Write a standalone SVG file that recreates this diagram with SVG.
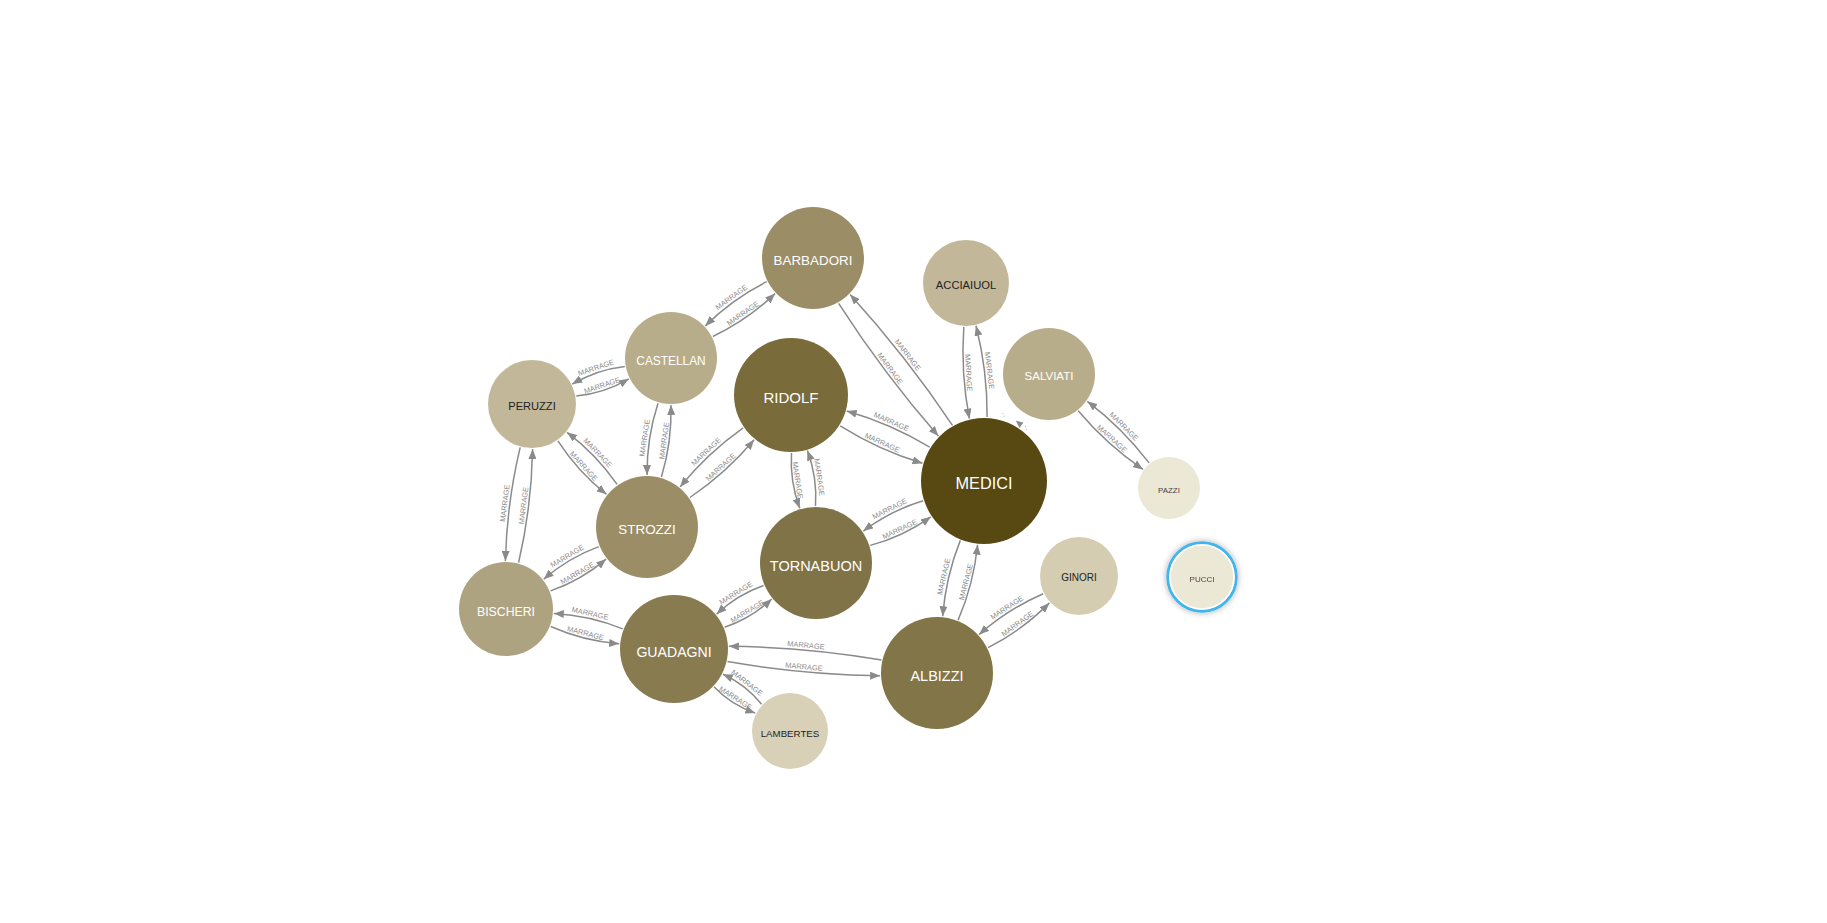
<svg xmlns="http://www.w3.org/2000/svg" width="1827" height="923" viewBox="0 0 1827 923">
<style>
.e{fill:none;stroke:#8a8a8a;stroke-width:1.5;marker-end:url(#arr)}
.l{font-family:"Liberation Sans",Arial,sans-serif;font-size:7.4px;fill:#8c8c8c;text-anchor:middle}
.t{font-family:"Liberation Sans",Arial,sans-serif;text-anchor:middle}
.w{fill:#ffffff}
.k{fill:#222222}
.g{fill:#444444}
</style>
<defs>
<marker id="arr" markerWidth="10" markerHeight="8" refX="10" refY="4" orient="auto" markerUnits="userSpaceOnUse"><path d="M0,0 L10,4 L0,8 z" fill="#8a8a8a"/></marker>
<filter id="sh" x="-50%" y="-50%" width="200%" height="200%"><feDropShadow dx="0" dy="0" stdDeviation="3" flood-color="#000" flood-opacity="0.35"/></filter>
</defs>
<rect width="1827" height="923" fill="#ffffff"/>
<g id="connectors">
<path class="e" d="M766.7,281.7 Q732.5,298.9 705.3,325.9"/>
<text class="l" transform="translate(734.3,301.3) rotate(-35.7)" y="-2.5">MARRAGE</text>
<path class="e" d="M712.8,336.5 Q747.4,320.0 775.1,293.6"/>
<text class="l" transform="translate(745.7,317.5) rotate(-34.6)" y="-2.5">MARRAGE</text>
<path class="e" d="M838.6,303.3 Q883.7,373.4 938.4,436.1"/>
<text class="l" transform="translate(886.1,371.5) rotate(53.1)" y="-2.5">MARRAGE</text>
<path class="e" d="M952.5,425.3 Q906.1,356.2 850.1,294.5"/>
<text class="l" transform="translate(903.7,358.1) rotate(52.0)" y="-2.5">MARRAGE</text>
<path class="e" d="M624.8,366.4 Q596.7,369.6 572.3,384.1"/>
<text class="l" transform="translate(597.6,372.4) rotate(-18.6)" y="-2.5">MARRAGE</text>
<path class="e" d="M576.3,396.0 Q604.5,393.1 628.9,378.8"/>
<text class="l" transform="translate(603.5,390.2) rotate(-18.1)" y="-2.5">MARRAGE</text>
<path class="e" d="M658.0,403.2 Q646.6,438.3 647.1,475.0"/>
<text class="l" transform="translate(649.6,438.7) rotate(-81.4)" y="-2.5">MARRAGE</text>
<path class="e" d="M661.4,477.0 Q672.1,441.8 670.9,405.0"/>
<text class="l" transform="translate(669.1,441.4) rotate(-82.5)" y="-2.5">MARRAGE</text>
<path class="e" d="M557.9,440.8 Q577.8,471.6 606.5,494.3"/>
<text class="l" transform="translate(580.0,469.6) rotate(47.7)" y="-2.5">MARRAGE</text>
<path class="e" d="M617.1,484.4 Q596.4,454.3 567.0,432.3"/>
<text class="l" transform="translate(594.2,456.3) rotate(46.1)" y="-2.5">MARRAGE</text>
<path class="e" d="M520.2,447.4 Q506.8,503.4 505.4,561.0"/>
<text class="l" transform="translate(509.8,503.8) rotate(-82.6)" y="-2.5">MARRAGE</text>
<path class="e" d="M518.6,562.7 Q531.6,506.6 532.6,449.0"/>
<text class="l" transform="translate(528.6,506.2) rotate(-83.0)" y="-2.5">MARRAGE</text>
<path class="e" d="M743.2,427.9 Q707.6,453.0 680.1,486.9"/>
<text class="l" transform="translate(709.6,455.2) rotate(-43.1)" y="-2.5">MARRAGE</text>
<path class="e" d="M689.9,497.5 Q726.1,473.1 754.1,439.8"/>
<text class="l" transform="translate(724.0,470.9) rotate(-41.9)" y="-2.5">MARRAGE</text>
<path class="e" d="M840.2,425.8 Q878.9,450.0 922.5,463.3"/>
<text class="l" transform="translate(880.1,447.3) rotate(24.5)" y="-2.5">MARRAGE</text>
<path class="e" d="M929.7,447.1 Q890.6,423.6 846.7,411.0"/>
<text class="l" transform="translate(889.4,426.3) rotate(23.5)" y="-2.5">MARRAGE</text>
<path class="e" d="M791.5,453.0 Q789.7,481.5 799.8,508.3"/>
<text class="l" transform="translate(792.7,481.1) rotate(81.5)" y="-2.5">MARRAGE</text>
<path class="e" d="M815.5,506.0 Q817.4,477.4 807.4,450.6"/>
<text class="l" transform="translate(814.4,477.9) rotate(81.7)" y="-2.5">MARRAGE</text>
<path class="e" d="M963.8,327.0 Q960.6,373.4 969.4,418.7"/>
<text class="l" transform="translate(963.6,373.1) rotate(86.5)" y="-2.5">MARRAGE</text>
<path class="e" d="M987.1,417.1 Q987.5,370.9 976.0,325.8"/>
<text class="l" transform="translate(984.5,371.2) rotate(83.1)" y="-2.5">MARRAGE</text>
<polygon points="1015.8,420.6 1023.4,422.6 1019.5,428" fill="#8a8a8a"/>
<circle cx="1003" cy="413.5" r="0.6" fill="#b0b0b0"/>
<circle cx="1004" cy="416.2" r="0.6" fill="#b0b0b0"/>
<circle cx="1025.5" cy="426.5" r="0.6" fill="#b0b0b0"/>
<circle cx="1026.5" cy="429" r="0.6" fill="#b0b0b0"/>
<path class="e" d="M1078.2,410.8 Q1106.5,444.5 1143.0,469.4"/>
<text class="l" transform="translate(1108.5,442.3) rotate(42.1)" y="-2.5">MARRAGE</text>
<path class="e" d="M1149.1,462.9 Q1122.3,427.8 1087.3,401.3"/>
<text class="l" transform="translate(1120.3,429.9) rotate(44.9)" y="-2.5">MARRAGE</text>
<path class="e" d="M598.8,546.6 Q568.2,557.8 543.7,579.3"/>
<text class="l" transform="translate(569.7,560.4) rotate(-30.7)" y="-2.5">MARRAGE</text>
<path class="e" d="M550.5,590.9 Q581.3,580.2 606.1,559.1"/>
<text class="l" transform="translate(579.8,577.6) rotate(-29.8)" y="-2.5">MARRAGE</text>
<path class="e" d="M870.2,545.4 Q903.2,536.5 930.9,516.8"/>
<text class="l" transform="translate(901.9,533.8) rotate(-25.2)" y="-2.5">MARRAGE</text>
<path class="e" d="M923.1,500.8 Q890.6,510.6 863.3,531.1"/>
<text class="l" transform="translate(891.9,513.3) rotate(-26.9)" y="-2.5">MARRAGE</text>
<path class="e" d="M763.6,585.5 Q737.0,594.7 716.6,614.2"/>
<text class="l" transform="translate(738.5,597.3) rotate(-31.4)" y="-2.5">MARRAGE</text>
<path class="e" d="M724.6,627.3 Q751.3,618.3 771.8,599.0"/>
<text class="l" transform="translate(749.8,615.7) rotate(-30.9)" y="-2.5">MARRAGE</text>
<path class="e" d="M550.7,626.5 Q583.6,641.0 619.2,643.8"/>
<text class="l" transform="translate(584.3,638.1) rotate(14.2)" y="-2.5">MARRAGE</text>
<path class="e" d="M622.8,628.9 Q589.7,615.4 553.8,613.5"/>
<text class="l" transform="translate(589.0,618.3) rotate(12.6)" y="-2.5">MARRAGE</text>
<path class="e" d="M727.5,661.6 Q803.3,674.7 880.1,675.8"/>
<text class="l" transform="translate(803.5,671.7) rotate(5.3)" y="-2.5">MARRAGE</text>
<path class="e" d="M881.5,660.0 Q805.7,647.2 728.9,646.3"/>
<text class="l" transform="translate(805.5,650.2) rotate(5.1)" y="-2.5">MARRAGE</text>
<path class="e" d="M714.0,686.7 Q731.2,704.8 755.3,713.1"/>
<text class="l" transform="translate(732.9,702.3) rotate(32.6)" y="-2.5">MARRAGE</text>
<path class="e" d="M761.6,704.3 Q745.7,684.4 722.9,674.2"/>
<text class="l" transform="translate(744.0,686.8) rotate(37.9)" y="-2.5">MARRAGE</text>
<path class="e" d="M960.3,540.4 Q945.7,576.9 942.7,616.3"/>
<text class="l" transform="translate(948.6,577.6) rotate(-76.9)" y="-2.5">MARRAGE</text>
<path class="e" d="M958.1,620.1 Q973.7,583.8 977.6,544.7"/>
<text class="l" transform="translate(970.8,583.1) rotate(-75.5)" y="-2.5">MARRAGE</text>
<path class="e" d="M988.1,647.7 Q1022.1,630.3 1049.4,602.9"/>
<text class="l" transform="translate(1020.4,627.8) rotate(-36.2)" y="-2.5">MARRAGE</text>
<path class="e" d="M1043.2,593.7 Q1007.8,609.2 979.1,634.6"/>
<text class="l" transform="translate(1009.5,611.7) rotate(-32.5)" y="-2.5">MARRAGE</text>
</g>
<g id="node-barbadori"><circle cx="813" cy="258" r="51" fill="#9b8d66"/><text class="t w" x="813" y="265.3" font-size="13.4">BARBADORI</text></g>
<g id="node-acciaiuol"><circle cx="966" cy="283" r="43" fill="#c2b899"/><text class="t k" x="966" y="289" font-size="11.2">ACCIAIUOL</text></g>
<g id="node-castellan"><circle cx="671" cy="358" r="46" fill="#b8ad8b"/><text class="t w" x="671" y="364.6" font-size="11.9">CASTELLAN</text></g>
<g id="node-ridolf"><circle cx="791" cy="395" r="57" fill="#7a6b3b"/><text class="t w" x="791" y="402.9" font-size="15">RIDOLF</text></g>
<g id="node-salviati"><circle cx="1049" cy="374" r="46" fill="#b8ad8b"/><text class="t w" x="1049" y="380.4" font-size="11.5">SALVIATI</text></g>
<g id="node-peruzzi"><circle cx="532" cy="404" r="44" fill="#c2b899"/><text class="t k" x="532" y="410" font-size="11.1">PERUZZI</text></g>
<g id="node-medici"><circle cx="984" cy="481" r="63" fill="#584912"/><text class="t w" x="984" y="489.3" font-size="16.3">MEDICI</text></g>
<g id="node-pazzi"><circle cx="1169" cy="488" r="31" fill="#ece8d6"/><text class="t g" x="1169" y="492.8" font-size="7.9">PAZZI</text></g>
<g id="node-strozzi"><circle cx="647" cy="527" r="51" fill="#9b8d66"/><text class="t w" x="647" y="534.3" font-size="13.4">STROZZI</text></g>
<g id="node-tornabuon"><circle cx="816" cy="563" r="56" fill="#807348"/><text class="t w" x="816" y="570.7" font-size="14.5">TORNABUON</text></g>
<g id="node-ginori"><circle cx="1079" cy="576" r="39" fill="#d5cdb2"/><text class="t k" x="1079" y="581.1" font-size="10">GINORI</text></g>
<g id="node-pucci" filter="url(#sh)"><circle cx="1202" cy="577" r="34.3" fill="none" stroke="#3fb5f0" stroke-width="2.8"/><circle cx="1202" cy="577" r="32" fill="#ece8d6" stroke="#ffffff" stroke-width="1.6"/><text class="t g" x="1202" y="581.9" font-size="8">PUCCI</text></g>
<g id="node-bischeri"><circle cx="506" cy="609" r="47" fill="#aea380"/><text class="t w" x="506" y="615.7" font-size="12.3">BISCHERI</text></g>
<g id="node-guadagni"><circle cx="674" cy="649" r="54" fill="#897b50"/><text class="t w" x="674" y="656.6" font-size="14.1">GUADAGNI</text></g>
<g id="node-albizzi"><circle cx="937" cy="673" r="56" fill="#827548"/><text class="t w" x="937" y="680.7" font-size="14.5">ALBIZZI</text></g>
<g id="node-lambertes"><circle cx="790" cy="731" r="38" fill="#d8d1b8"/><text class="t k" x="790" y="736.5" font-size="9.7">LAMBERTES</text></g>
</svg>
